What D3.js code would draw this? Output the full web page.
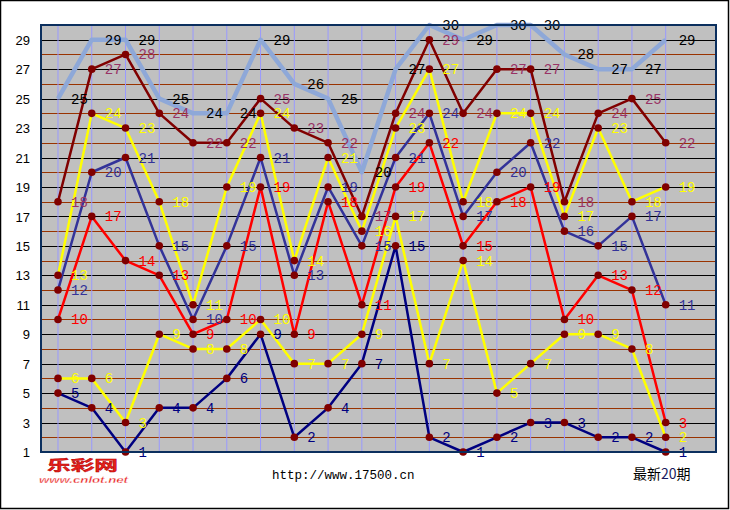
<!DOCTYPE html>
<html><head><meta charset="utf-8">
<script src="https://cdn.jsdelivr.net/npm/d3@7"></script>
<style>html,body{margin:0;padding:0;background:#fff;}svg{display:block;}</style>
</head><body>
<script>
// ---- data ----
const periods = ["1","2","3","4","5","6","7","8","9","10","11","12","13","14","15","16","17","18","19"];
const n7 = [25,29,29,25,24,24,29,26,25,20,27,30,29,30,30,28,27,27,29];
const n6 = [18,27,28,24,22,22,25,23,22,17,24,29,24,27,27,18,24,25,22];
const n5 = [13,24,23,18,11,19,24,14,21,16,23,27,18,24,24,17,23,18,19];
const n4 = [12,20,21,15,10,15,21,13,19,15,21,24,17,20,22,16,15,17,11];
const n3 = [10,17,14,13,9,10,19,9,18,11,19,22,15,18,19,10,13,12,3];
const n2 = [6,6,3,9,8,8,10,7,7,9,17,7,14,5,7,9,9,8,2];
const n1 = [5,4,1,4,4,6,9,2,4,7,15,2,1,2,3,3,2,2,1];
const yTicks = [1,3,5,7,9,11,13,15,17,19,21,23,25,27,29];

const W = 730, H = 510;
const svg = d3.select("body").append("svg").attr("width", W).attr("height", H);

// outer frame
svg.append("rect").attr("x",0.5).attr("y",0.5).attr("width",728).attr("height",508)
  .attr("fill","#fff").attr("stroke","#000").attr("stroke-width",1.5);

const plot = {l:41, t:25, r:716, b:452};
const x = d3.scalePoint().domain(periods).range([58, 665.7]);
const y = d3.scaleLinear().domain([1,30]).range([plot.b, plot.t]);

svg.append("rect").attr("x",plot.l).attr("y",plot.t).attr("width",plot.r-plot.l).attr("height",plot.b-plot.t)
  .attr("fill","#C0C0C0");

// horizontal grid
const gridVals = d3.range(2,30);
svg.append("g").selectAll("line").data(gridVals).join("line")
  .attr("x1",plot.l).attr("x2",plot.r)
  .attr("y1",d=>Math.round(y(d))+0.5).attr("y2",d=>Math.round(y(d))+0.5)
  .attr("stroke",d=> d%2===0 ? "#993300" : "#000").attr("stroke-width",1);

// vertical grid
svg.append("g").selectAll("line").data(periods).join("line")
  .attr("x1",d=>x(d)).attr("x2",d=>x(d)).attr("y1",plot.t).attr("y2",plot.b)
  .attr("stroke","#9999FF").attr("stroke-width",1);

// y axis labels
const yAxis = d3.axisLeft(y).tickValues(yTicks).tickSize(0).tickPadding(0).tickFormat(d3.format("d"));
const ga = svg.append("g").attr("transform","translate(30,0)").call(yAxis);
ga.select(".domain").remove();
ga.selectAll("text").attr("font-family","Liberation Sans, Arial, sans-serif").attr("font-size",13)
  .attr("fill","#000").attr("dy","0.36em");

const series = [
  {v:n7, line:"#8EA8D8", lw:4.5, lab:"#000", marker:false},
  {v:n6, line:"#800000", lw:2.5, lab:"#993366", marker:true},
  {v:n5, line:"#FFFF00", lw:2.5, lab:"#FFFF00", marker:true},
  {v:n4, line:"#333399", lw:2.5, lab:"#333399", marker:true},
  {v:n3, line:"#FF0000", lw:2.5, lab:"#FF0000", marker:true},
  {v:n2, line:"#FFFF00", lw:2.5, lab:"#FFFF00", marker:true},
  {v:n1, line:"#000080", lw:2.5, lab:"#000080", marker:true}
];

const lineGen = d3.line().x((d,i)=>x(periods[i])).y(d=>y(d));
series.forEach(s=>{
  svg.append("path").datum(s.v).attr("d",lineGen).attr("fill","none")
    .attr("stroke",s.line).attr("stroke-width",s.lw).attr("stroke-linejoin","round");
});
series.filter(s=>s.marker).forEach(s=>{
  svg.append("g").selectAll("circle").data(s.v).join("circle")
    .attr("cx",(d,i)=>x(periods[i])).attr("cy",d=>y(d)).attr("r",3.8).attr("fill","#800000");
});
series.forEach(s=>{
  svg.append("g").selectAll("text").data(s.v).join("text")
    .attr("x",(d,i)=>x(periods[i])+13).attr("y",d=>y(d)+5)
    .attr("font-family","Liberation Mono, DejaVu Sans Mono, monospace").attr("font-size",14)
    .attr("fill",s.lab).text(d=>d);
});

// plot border
svg.append("rect").attr("x",plot.l).attr("y",plot.t).attr("width",plot.r-plot.l).attr("height",plot.b-plot.t)
  .attr("fill","none").attr("stroke","#0B2F5E").attr("stroke-width",2);

// footer texts
svg.append("text").attr("x",272).attr("y",479).attr("font-family","Liberation Mono, monospace")
  .attr("font-size",12.5).attr("fill","#000").text("http://www.17500.cn");
const ft = svg.append("text").attr("x",633).attr("y",479).attr("font-family","Noto Sans CJK SC, sans-serif")
  .attr("font-size",14).attr("fill","#000");
ft.append("tspan").text("最新");
ft.append("tspan").attr("fill","#1a1a60").text("20");
ft.append("tspan").text("期");

// logo
svg.append("text").attr("x",47).attr("y",470).attr("font-family","Noto Sans CJK SC, sans-serif")
  .attr("font-weight","bold").attr("font-size",14).attr("fill","#E8201A")
  .attr("stroke","#B00000").attr("stroke-width",0.4)
  .attr("textLength",71).attr("lengthAdjust","spacingAndGlyphs").text("乐彩网");
svg.append("text").attr("x",39).attr("y",483).attr("font-family","Liberation Sans, Arial, sans-serif")
  .attr("font-weight","bold").attr("font-style","italic").attr("font-size",9.5).attr("fill","#E8201A")
  .attr("stroke","#fff").attr("stroke-width",0.3)
  .attr("textLength",89).attr("lengthAdjust","spacingAndGlyphs").text("www.cnlot.net");
</script>
</body></html>
